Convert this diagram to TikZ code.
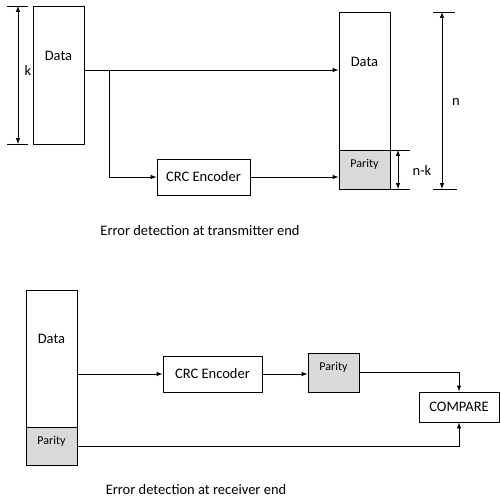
\documentclass[tikz,border=0pt]{standalone}
\usepackage{fontspec}
\setmainfont{Carlito}
\usetikzlibrary{positioning}

\begin{document}
\begin{tikzpicture}[x=1pt, y=-1pt, line width=1pt,
    blk/.style={draw, inner sep=0pt, minimum width=51pt},
    par/.style={blk, fill=gray!30},
    txt/.style={font=\fontsize{14.5}{17}\selectfont},
    sml/.style={font=\fontsize{12}{14}\selectfont}]
\useasboundingbox (0,0) rectangle (500,498);
% transmitter side
    \node[blk, minimum height=138pt, label={[txt, yshift=19pt]center:Data}] (1) at (58.5,75) {};
    \coordinate (3) at (18,6);
    \coordinate (4) at (18,144);
    \node[txt] (5) at (28,70) {k};
    \node[blk, minimum height=138pt, label={[txt, yshift=19pt]center:Data}] (6) at (364.5,81) {};
    \node[par, minimum height=39pt, label={[sml, yshift=5pt]center:Parity}] (7) [below=-1pt of 6] {};
    \node[blk, txt, minimum width=93pt, minimum height=36pt] (8) at (203.5,177) {CRC Encoder};
    \coordinate (12) at (109,70);
    \coordinate (15) at (398,150);
    \coordinate (16) at (398,189);
    \node[txt] (17) at (422,170) {n-k};
    \coordinate (18) at (442,12);
    \coordinate (19) at (442,189);
    \node[txt] (20) at (456,102) {n};
    \node[txt, inner sep=1pt] (21) at (200,231) {Error detection at transmitter end};
% receiver side
    \node[blk, minimum height=137pt, label={[txt, yshift=19.5pt]center:Data}] (13) at (51.5,358.5) {};
    \node[par, minimum height=38pt, label={[sml, yshift=5pt]center:Parity}] (14) [below=-1pt of 13] {};
    \node[blk, txt, minimum width=99pt, minimum height=36pt] (9) at (212.5,374) {CRC Encoder};
    \node[par, minimum height=39pt, label={[sml, yshift=5pt]center:Parity}] (10) at (333.5,372.5) {};
    \node[blk, txt, minimum width=80pt, minimum height=30pt] (11) at (459,407) {COMPARE};
    \node[txt, inner sep=1pt] (22) at (196,490) {Error detection at receiver end};
\begin{scope}[-latex]
    \draw (12 -| 1.east) -- (12 -| 6.west);
    \draw (12) |- (8.west);
    \draw (8.east) -- (8.east -| 7.west);
    \draw (9.west -| 13.east) -- (9.west);
    \draw (9.east) -- (9.east -| 10.west);
    \draw (10.east) -| (11.north);
    \draw (14.east) -| (11.south);
\end{scope}
\begin{scope}[latex-latex]
    \draw (3) -- (4);
    \draw (15) -- (16);
    \draw (18) -- (19);
\end{scope}
    \draw ([xshift=-11pt]3) -- ([xshift=10pt]3);
    \draw ([xshift=-11pt]4) -- ([xshift=10pt]4);
    \draw (15 -| 7.east) -- ([xshift=12pt]15);
    \draw (16 -| 7.east) -- ([xshift=12pt]16);
    \draw ([xshift=-9pt]18) -- ([xshift=13pt]18);
    \draw ([xshift=-9pt]19) -- ([xshift=15pt]19);
\end{tikzpicture}
\end{document}
